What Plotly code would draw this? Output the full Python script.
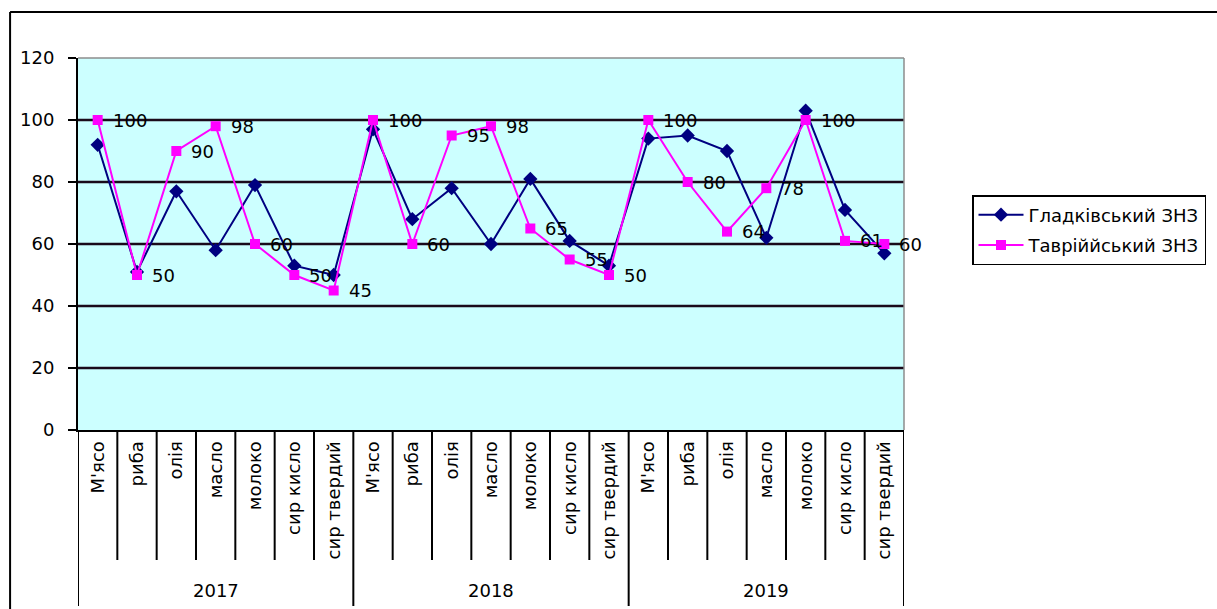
import plotly.graph_objects as go

# Food products per year and the two schools' values (%)
years = ["2017", "2018", "2019"]
products = ["М'ясо", "риба", "олія", "масло", "молоко", "сир кисло", "сир твердий"]

gladkivskyi = [92, 51, 77, 58, 79, 53, 50,
               97, 68, 78, 60, 81, 61, 53,
               94, 95, 90, 62, 103, 71, 57]
tavriiskyi = [100, 50, 90, 98, 60, 50, 45,
              100, 60, 95, 98, 65, 55, 50,
              100, 80, 64, 78, 100, 61, 60]

y_ticks = [0, 20, 40, 60, 80, 100, 120]

FONT = "DejaVu Sans, Liberation Sans, Arial, sans-serif"
FS = 18
W, H = 1217, 609
ML, MR, MT, MB = 78, 312, 58, 179
PH = H - MT - MB  # plot height in px
PW = W - ML - MR  # plot width in px

n_per_year = len(products)
n = n_per_year * len(years)
xs = list(range(n))
tick_text = products * len(years)

fig = go.Figure()
fig.add_trace(go.Scatter(
    x=xs, y=gladkivskyi, name="Гладківський ЗНЗ", mode="lines+markers",
    line=dict(color="#000080", width=2), legendgroup="g",
    marker=dict(symbol="diamond", size=11, color="#000080"),
))
fig.add_trace(go.Scatter(
    x=xs, y=tavriiskyi, name="Тавріййський ЗНЗ", mode="lines+markers",
    line=dict(color="#FF00FF", width=2), legendgroup="t",
    marker=dict(symbol="square", size=10, color="#FF00FF"),
))

# value labels to the right of the second series' points
annotations = []
for x, v in zip(xs, tavriiskyi):
    annotations.append(dict(
        x=x, y=v, xref="x", yref="y", text=str(v), showarrow=False,
        xanchor="left", yanchor="middle", xshift=13,
        font=dict(family=FONT, size=FS, color="black"),
    ))

shapes = []
# horizontal grid lines
for v in y_ticks[1:-1]:
    shapes.append(dict(type="line", xref="paper", yref="y", x0=0, x1=1, y0=v, y1=v,
                       line=dict(color="#1a0a1a", width=2.5), layer="below"))
# grey plot-area border on top and right
shapes.append(dict(type="line", xref="paper", yref="paper", x0=0, x1=1, y0=1, y1=1,
                   line=dict(color="#8c8c8c", width=1.5)))
shapes.append(dict(type="line", xref="paper", yref="paper", x0=1, x1=1, y0=0, y1=1,
                   line=dict(color="#8c8c8c", width=1.5)))

# category dividers below the axis; year dividers run further down
inner_bottom = -(560 - (H - MB)) / PH
year_bottom = -(606 - (H - MB)) / PH
for k in range(n + 1):
    is_year = k % n_per_year == 0
    shapes.append(dict(type="line", xref="x", yref="paper", x0=k - 0.5, x1=k - 0.5,
                       y0=0, y1=year_bottom if is_year else inner_bottom,
                       line=dict(color="black", width=2)))

# outer chart frame
frame_left = -(ML - 10) / PW
frame_top = (H - MB - 12) / PH
shapes.append(dict(type="line", xref="paper", yref="paper",
                   x0=frame_left, x1=2, y0=frame_top, y1=frame_top,
                   line=dict(color="black", width=2)))
shapes.append(dict(type="line", xref="paper", yref="paper",
                   x0=frame_left, x1=frame_left, y0=frame_top, y1=-2,
                   line=dict(color="black", width=2)))

for i, yr in enumerate(years):
    annotations.append(dict(
        x=i * n_per_year + (n_per_year - 1) / 2, xref="x",
        y=-(590 - (H - MB)) / PH, yref="paper",
        text=yr, showarrow=False, font=dict(family=FONT, size=FS, color="black"),
        xanchor="center", yanchor="middle",
    ))

fig.update_layout(
    width=W, height=H,
    margin=dict(l=ML, r=MR, t=MT, b=MB),
    paper_bgcolor="white", plot_bgcolor="#CCFFFF",
    font=dict(family=FONT, size=FS, color="black"),
    shapes=shapes, annotations=annotations,
    xaxis=dict(
        range=[-0.5, n - 0.5], tickmode="array", tickvals=xs, ticktext=tick_text,
        tickangle=-90, showgrid=False, zeroline=False, showline=True,
        linecolor="black", linewidth=2, ticks="", ticklabelstandoff=2,
        tickfont=dict(family=FONT, size=FS),
    ),
    yaxis=dict(
        range=[0, 120], tickvals=y_ticks, showgrid=False, zeroline=False,
        showline=True, linecolor="black", linewidth=2,
        ticks="outside", ticklen=8, tickwidth=2, tickcolor="black",
        ticklabelstandoff=10, tickfont=dict(family=FONT, size=FS),
    ),
    legend=dict(
        x=(972 - ML) / PW, y=(H - MB - 195) / PH,
        xanchor="left", yanchor="top", itemwidth=45,
        bordercolor="black", borderwidth=1.5, bgcolor="white",
        font=dict(family=FONT, size=FS), tracegroupgap=4,
    ),
)

fig.write_html("out.html")
